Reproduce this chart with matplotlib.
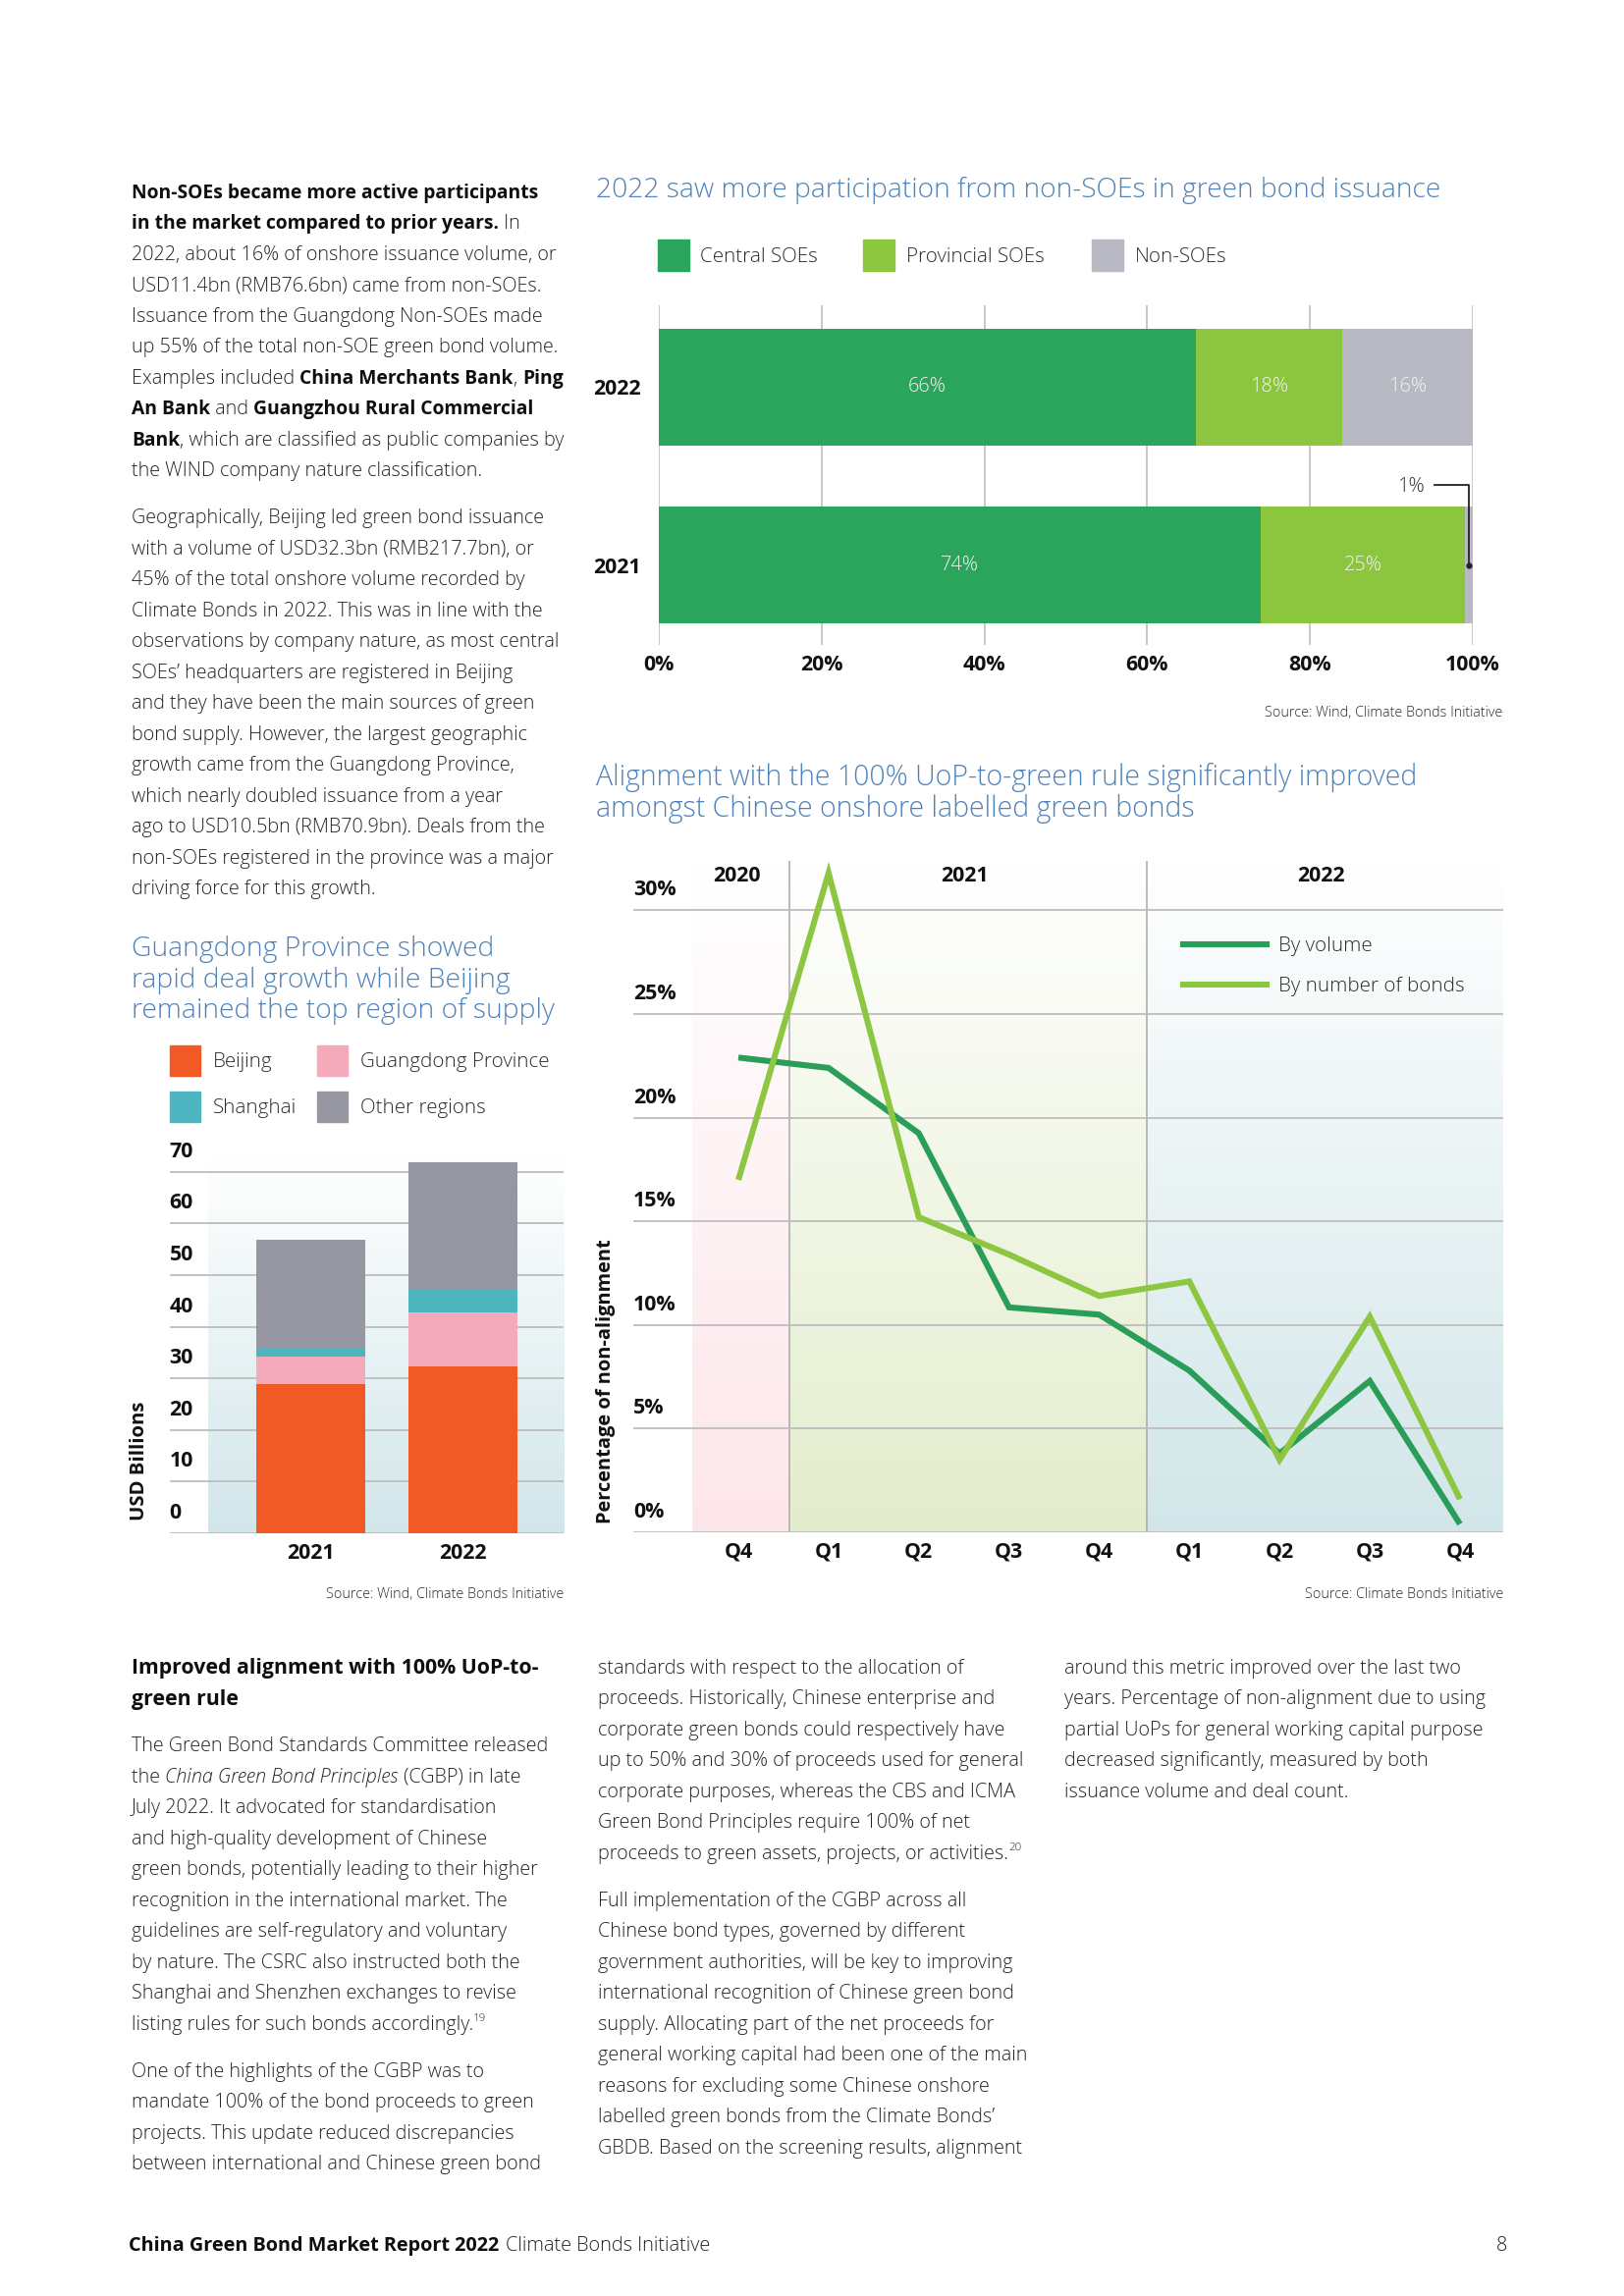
import re
import numpy as np
import matplotlib
matplotlib.use('Agg')
import matplotlib.pyplot as plt
from matplotlib import font_manager as fm
from matplotlib.patches import Rectangle
from matplotlib.lines import Line2D
from matplotlib.transforms import blended_transform_factory, offset_copy

# ---------------- data ----------------
soe_years = ['2022', '2021']
central_soes = [66, 74]
provincial_soes = [18, 25]
non_soes = [16, 1]
soe_ticks = [0, 20, 40, 60, 80, 100]
soe_legend = ['Central SOEs', 'Provincial SOEs', 'Non-SOEs']

region_years = ['2021', '2022']
beijing = [28.9, 32.3]
guangdong = [5.4, 10.5]
shanghai = [1.7, 4.4]
other_regions = [20.9, 24.6]
region_legend = ['Beijing', 'Guangdong Province', 'Shanghai', 'Other regions']
region_ticks = [0, 10, 20, 30, 40, 50, 60, 70]

quarters = ['Q4', 'Q1', 'Q2', 'Q3', 'Q4', 'Q1', 'Q2', 'Q3', 'Q4']
year_groups = ['2020', '2021', '2022']
by_volume = [22.9, 22.4, 19.25, 10.85, 10.5, 7.8, 3.8, 7.3, 0.4]
by_number = [17.0, 31.8, 15.2, 13.4, 11.4, 12.1, 3.5, 10.4, 1.6]
pct_ticks = [0, 5, 10, 15, 20, 25, 30]
line_legend = ['By volume', 'By number of bonds']

# ---------------- fonts ----------------
_WMAP = {'ultralight': 200, 'extralight': 200, 'light': 300, 'normal': 400, 'regular': 400,
         'book': 400, 'medium': 500, 'semibold': 600, 'demibold': 600, 'bold': 700,
         'extra bold': 800, 'heavy': 800, 'black': 900}


def _weights(name):
    ws = set()
    for f in fm.fontManager.ttflist:
        if f.name == name and f.style == 'normal':
            w = f.weight
            if isinstance(w, str):
                w = _WMAP.get(w.lower(), 400)
            ws.add(int(w))
    return ws


MAIN = 'DejaVu Sans'
for cand in ['Noto Sans', 'Open Sans', 'Roboto', 'Lato', 'Inter', 'Liberation Sans']:
    ws = _weights(cand)
    if any(w >= 600 for w in ws) and any(350 <= w <= 450 for w in ws):
        MAIN = cand
        break
_mw = _weights(MAIN)
LIGHT = 300 if any(w <= 350 for w in _mw) else 'normal'
FAM = [MAIN, 'DejaVu Sans']
plt.rcParams['font.family'] = FAM

# ---------------- page setup ----------------
W, H, DPI = 1654, 2339, 100
fig = plt.figure(figsize=(W / DPI, H / DPI), dpi=DPI)
fig.patch.set_facecolor('white')
renderer = fig.canvas.get_renderer()

BODY = '#232323' if LIGHT != 'normal' else '#3a3a3a'
BOLD_C = '#0e0e0e'
TITLE_C = '#4f82b8'
GRID = '#bdbdbd'

C_CENTRAL, C_PROV, C_NON = '#2ba55b', '#8cc63f', '#b9b9c4'
C_BEIJING, C_GD, C_SH, C_OTHER = '#f15a25', '#f5aabb', '#4cb5c0', '#9797a2'
C_VOL, C_NUM = '#2a9d58', '#8dc641'


def rect(l, t, r, b):
    return [l / W, 1 - b / H, (r - l) / W, (b - t) / H]


def measure(s, size, weight='normal', style='normal'):
    t = fig.text(0, 0, s, fontsize=size, weight=weight, style=style, family=FAM)
    w = t.get_window_extent(renderer).width
    t.remove()
    return w


def advance(s, size, weight='normal', style='normal'):
    return measure('|' + s + '|', size, weight, style) - measure('||', size, weight, style)


def fit(s, target, weight='normal', style='normal'):
    return 20.0 * target / measure(s, 20.0, weight, style)


def put(x, yc, s, size, color, weight='normal', style='normal', ha='left', **kw):
    em = size * DPI / 72
    return fig.text(x / W, 1 - (yc + 0.33 * em) / H, s, fontsize=size, color=color,
                    weight=weight, style=style, ha=ha, va='baseline', family=FAM, **kw)


TOKEN = re.compile(r'(\*\*.+?\*\*|\^.+?\^|\*.+?\*)')
BOLD_SCALE = 1.0


def line_runs(x, yc, line, size, color=None, bold_color=BOLD_C, base_weight=None,
              bold_scale=None):
    color = BODY if color is None else color
    base_weight = LIGHT if base_weight is None else base_weight
    bold_scale = BOLD_SCALE if bold_scale is None else bold_scale
    em = size * DPI / 72
    for p in TOKEN.split(line):
        if not p:
            continue
        wt, st, sz, dy, col = base_weight, 'normal', size, 0.0, color
        if p.startswith('**'):
            s, wt, col, sz = p[2:-2], 'bold', bold_color, size * bold_scale
        elif p.startswith('^'):
            s, sz, dy = p[1:-1], size * 0.58, -0.42 * em
        elif p.startswith('*'):
            s, st = p[1:-1], 'italic'
        else:
            s = p
        fig.text(x / W, 1 - (yc + 0.33 * em + dy) / H, s, fontsize=sz, color=col,
                 weight=wt, style=st, ha='left', va='baseline', family=FAM)
        x += advance(s, sz, wt, st)


def paragraph(x, y0, lines, size, step=31.5, **kw):
    for i, ln in enumerate(lines):
        line_runs(x, y0 + i * step, ln, size, **kw)


# ---------------- sizes ----------------
body_size = fit('The Green Bond Standards Committee released', 425, LIGHT)
BOLD_SCALE = fit('Non-SOEs became more active participants', 413, 'bold') / body_size
tick_size = fit('100%', 56, 'bold')
legend_size = fit('Provincial SOEs', 140, LIGHT)
source_size = fit('Source: Wind, Climate Bonds Initiative', 242, LIGHT)
value_size = fit('66%', 39, LIGHT)
head_size = fit('Improved alignment with 100% UoP-to-', 415, 'bold')

# ---------------- body text ----------------
block1 = [
    '**Non-SOEs became more active participants**',
    '**in the market compared to prior years.** In',
    '2022, about 16% of onshore issuance volume, or',
    'USD11.4bn (RMB76.6bn) came from non-SOEs.',
    'Issuance from the Guangdong Non-SOEs made',
    'up 55% of the total non-SOE green bond volume.',
    'Examples included **China Merchants Bank**, **Ping**',
    '**An Bank** and **Guangzhou Rural Commercial**',
    '**Bank**, which are classified as public companies by',
    'the WIND company nature classification.',
]
block2 = [
    'Geographically, Beijing led green bond issuance',
    'with a volume of USD32.3bn (RMB217.7bn), or',
    '45% of the total onshore volume recorded by',
    'Climate Bonds in 2022. This was in line with the',
    'observations by company nature, as most central',
    'SOEs\u2019 headquarters are registered in Beijing',
    'and they have been the main sources of green',
    'bond supply. However, the largest geographic',
    'growth came from the Guangdong Province,',
    'which nearly doubled issuance from a year',
    'ago to USD10.5bn (RMB70.9bn). Deals from the',
    'non-SOEs registered in the province was a major',
    'driving force for this growth.',
]
paragraph(134, 195, block1, body_size)
paragraph(134, 526.5, block2, body_size)

heading = ['**Improved alignment with 100% UoP-to-**', '**green rule**']
paragraph(134, 1698, heading, head_size, bold_scale=1.0)
col1a = [
    'The Green Bond Standards Committee released',
    'the *China Green Bond Principles* (CGBP) in late',
    'July 2022. It advocated for standardisation',
    'and high-quality development of Chinese',
    'green bonds, potentially leading to their higher',
    'recognition in the international market. The',
    'guidelines are self-regulatory and voluntary',
    'by nature. The CSRC also instructed both the',
    'Shanghai and Shenzhen exchanges to revise',
    'listing rules for such bonds accordingly.^19^',
]
col1b = [
    'One of the highlights of the CGBP was to',
    'mandate 100% of the bond proceeds to green',
    'projects. This update reduced discrepancies',
    'between international and Chinese green bond',
]
col2a = [
    'standards with respect to the allocation of',
    'proceeds. Historically, Chinese enterprise and',
    'corporate green bonds could respectively have',
    'up to 50% and 30% of proceeds used for general',
    'corporate purposes, whereas the CBS and ICMA',
    'Green Bond Principles require 100% of net',
    'proceeds to green assets, projects, or activities.^20^',
]
col2b = [
    'Full implementation of the CGBP across all',
    'Chinese bond types, governed by different',
    'government authorities, will be key to improving',
    'international recognition of Chinese green bond',
    'supply. Allocating part of the net proceeds for',
    'general working capital had been one of the main',
    'reasons for excluding some Chinese onshore',
    'labelled green bonds from the Climate Bonds\u2019',
    'GBDB. Based on the screening results, alignment',
]
col3 = [
    'around this metric improved over the last two',
    'years. Percentage of non-alignment due to using',
    'partial UoPs for general working capital purpose',
    'decreased significantly, measured by both',
    'issuance volume and deal count.',
]
paragraph(134, 1777.5, col1a, body_size)
paragraph(134, 2109, col1b, body_size)
paragraph(609, 1698, col2a, body_size)
paragraph(609, 1935, col2b, body_size)
paragraph(1084.5, 1698, col3, body_size)

# footer
foot_b = 'China Green Bond Market Report 2022'
foot_size = fit(foot_b, 379, 'bold')
put(131, 2286, foot_b, foot_size, BOLD_C, weight='bold')
put(131 + advance(foot_b + ' ', foot_size, 'bold') + 2, 2286, 'Climate Bonds Initiative',
    foot_size, BODY, weight=LIGHT)
put(1530, 2286, '8', foot_size, BODY, ha='center', weight=LIGHT)

# ---------------- chart titles ----------------
t1 = '2022 saw more participation from non-SOEs in green bond issuance'
title_size = fit(t1, 861, LIGHT)
put(607, 192, t1, title_size, TITLE_C, weight=LIGHT)
t2 = ['Alignment with the 100% UoP-to-green rule significantly improved',
      'amongst Chinese onshore labelled green bonds']
t2_size = fit(t2[0], 841, LIGHT)
for i, s in enumerate(t2):
    put(607, 791 + 32 * i, s, t2_size, TITLE_C, weight=LIGHT)
t3 = ['Guangdong Province showed', 'rapid deal growth while Beijing',
      'remained the top region of supply']
t3_size = fit(t3[2], 430, LIGHT)
for i, s in enumerate(t3):
    put(134, 965 + 31.5 * i, s, t3_size, TITLE_C, weight=LIGHT)


def clean(ax):
    for sp in ax.spines.values():
        sp.set_visible(False)
    ax.tick_params(length=0)
    ax.patch.set_alpha(0)


def gradient(ax, x0, x1, y0, y1, color, z=0):
    c = np.array(matplotlib.colors.to_rgb(color))
    t = np.linspace(0, 1, 256)[:, None, None]
    img = (1 - t) * np.ones(3) + t * c
    ax.imshow(img, extent=[x0, x1, y0, y1], aspect='auto', origin='upper',
              zorder=z, interpolation='bicubic')


# ---------------- chart 1: company nature ----------------
ax1 = fig.add_axes(rect(671, 311, 1500, 657))
ypos = np.array([1.0, 0.0])
bh = 0.657
left = np.zeros(2)
for vals, col in [(central_soes, C_CENTRAL), (provincial_soes, C_PROV), (non_soes, C_NON)]:
    vals = np.array(vals, dtype=float)
    ax1.barh(ypos, vals, left=left, height=bh, color=col, zorder=3)
    for yy, l, v in zip(ypos, left, vals):
        if v >= 5:
            ax1.text(l + v / 2, yy, f'{v:.0f}%', ha='center', va='center',
                     fontsize=value_size, color='#eef5ec', weight=LIGHT, zorder=4)
    left += vals
ax1.set_xlim(0, 100)
ax1.set_ylim(-0.450, 1.461)
ax1.set_xticks(soe_ticks)
ax1.set_xticklabels([f'{v}%' for v in soe_ticks], fontsize=tick_size, fontweight='bold',
                    color='#111111')
ax1.set_yticks(ypos)
ax1.set_yticklabels(soe_years, fontsize=tick_size, fontweight='bold', color='#111111')
ax1.tick_params(axis='x', pad=7)
ax1.tick_params(axis='y', pad=13)
ax1.xaxis.grid(True, color='#c4c4c4', lw=1.3, zorder=0)
ax1.set_axisbelow(True)
clean(ax1)
# 1% call-out
x_small = central_soes[1] + provincial_soes[1] + non_soes[1] / 2
ax1.plot([95.3, x_small, x_small], [0.45, 0.45, ypos[1]], color='#222222', lw=1.3,
         zorder=5, clip_on=False)
ax1.plot([x_small], [ypos[1]], 'o', color='#222222', ms=3.5, zorder=5)
ax1.text(92.4, 0.44, f'{non_soes[1]}%', ha='center', va='center', fontsize=value_size,
         color='#333333', weight=LIGHT)

for (sx, lx), lab, col in zip([(670, 713), (879, 923), (1112, 1156)], soe_legend,
                              [C_CENTRAL, C_PROV, C_NON]):
    fig.add_artist(Rectangle((sx / W, 1 - 276 / H), 32 / W, 32 / H, color=col,
                             transform=fig.transFigure))
    put(lx, 260, lab, legend_size, '#2a2a2a', weight=LIGHT)
put(1530, 725, 'Source: Wind, Climate Bonds Initiative', source_size, '#2a2a2a',
    ha='right', weight=LIGHT)

# ---------------- chart 2: non-alignment lines ----------------
px_per_pct = 105.6 / 5
ax2 = fig.add_axes(rect(645, 877, 1531, 1561))
ytop = (1561 - 877) / px_per_pct
xq = np.arange(len(quarters))
ax2.set_xlim(-1.165, 8.48)
ax2.set_ylim(0, ytop)
bounds = [-0.51, 0.57, 4.53, 8.48]
for (b0, b1), col in zip(zip(bounds[:-1], bounds[1:]), ['#fde6ea', '#e3edcc', '#d2e6e9']):
    gradient(ax2, b0, b1, 0, ytop, col)
for b in bounds[1:-1]:
    ax2.axvline(b, color='#a9a9a9', lw=1.1, zorder=1)
for v in pct_ticks:
    ax2.axhline(v, color=GRID, lw=1.3, zorder=1)
ax2.plot(xq, by_volume, color=C_VOL, lw=4.4, zorder=3, solid_joinstyle='miter',
         solid_capstyle='butt')
ax2.plot(xq, by_number, color=C_NUM, lw=4.4, zorder=4, solid_joinstyle='miter',
         solid_capstyle='butt')
ax2.set_xticks(xq)
ax2.set_xticklabels(quarters, fontsize=tick_size, fontweight='bold', color='#111111')
ax2.tick_params(axis='x', pad=7)
ax2.set_yticks([])
clean(ax2)
tr2 = offset_copy(blended_transform_factory(ax2.transAxes, ax2.transData), fig=fig,
                  x=0, y=20.5 * 72 / DPI, units='points')
for v in pct_ticks:
    ax2.text(0, v, f'{v}%', transform=tr2, ha='left', va='center', fontsize=tick_size,
             fontweight='bold', color='#111111')
trx = blended_transform_factory(ax2.transData, ax2.transAxes)
for (b0, b1), lab in zip(zip(bounds[:-1], bounds[1:]), year_groups):
    ax2.text((b0 + b1) / 2 - (0.05 if lab == '2020' else 0.04), 1 - 16 / 684, lab,
             transform=trx, ha='center', va='center', fontsize=tick_size,
             fontweight='bold', color='#111111')
for i, (lab, col) in enumerate(zip(line_legend, [C_VOL, C_NUM])):
    yy = 962 + 41 * i
    fig.add_artist(Line2D([1205 / W, 1290 / W], [1 - yy / H, 1 - yy / H], color=col,
                          lw=4.4, transform=fig.transFigure))
    put(1302, yy, lab, legend_size, '#2a2a2a', weight=LIGHT)
fig.text(617 / W, 1 - 1407 / H, 'Percentage of non-alignment', rotation=90, ha='center',
         va='center', fontsize=fit('Percentage of non-alignment', 290, 'bold'),
         fontweight='bold', color='#111111')
put(1531, 1623, 'Source: Climate Bonds Initiative', source_size, '#2a2a2a', ha='right',
    weight=LIGHT)

# ---------------- chart 3: regions ----------------
px_per_bn = (1562 - 1193.7) / 70
ax3 = fig.add_axes(rect(172.6, 1180, 574, 1562))
ytop3 = (1562 - 1180) / px_per_bn
ax3.set_xlim(-0.932, 1.664)
ax3.set_ylim(0, ytop3)
gradient(ax3, -0.68, 1.664, 0, ytop3, '#d2e6ea')
for v in region_ticks:
    ax3.axhline(v, color=GRID, lw=1.3, zorder=1)
xr = np.arange(len(region_years))
bottom = np.zeros(2)
for vals, col in [(beijing, C_BEIJING), (guangdong, C_GD), (shanghai, C_SH),
                  (other_regions, C_OTHER)]:
    ax3.bar(xr, vals, bottom=bottom, width=0.721, color=col, zorder=3)
    bottom += np.array(vals)
ax3.set_xticks(xr)
ax3.set_xticklabels(region_years, fontsize=tick_size, fontweight='bold', color='#111111')
ax3.tick_params(axis='x', pad=7)
ax3.set_yticks([])
clean(ax3)
tr3 = offset_copy(blended_transform_factory(ax3.transAxes, ax3.transData), fig=fig,
                  x=0, y=20.5 * 72 / DPI, units='points')
for v in region_ticks:
    ax3.text(0, v, f'{v}', transform=tr3, ha='left', va='center', fontsize=tick_size,
             fontweight='bold', color='#111111')
fig.text(142 / W, 1 - 1488 / H, 'USD Billions', rotation=90, ha='center', va='center',
         fontsize=fit('USD Billions', 121, 'bold'), fontweight='bold', color='#111111')
for (sx, sy, lx), lab, col in zip([(173, 1065, 217), (323, 1065, 367),
                                   (173, 1112, 217), (323, 1112, 367)],
                                  region_legend, [C_BEIJING, C_GD, C_SH, C_OTHER]):
    fig.add_artist(Rectangle((sx / W, 1 - (sy + 31) / H), 31 / W, 31 / H, color=col,
                             transform=fig.transFigure))
    put(lx, sy + 15.5, lab, legend_size, '#2a2a2a', weight=LIGHT)
put(574, 1623, 'Source: Wind, Climate Bonds Initiative', source_size, '#2a2a2a',
    ha='right', weight=LIGHT)

fig.savefig('out.png', dpi=DPI, facecolor='white')
